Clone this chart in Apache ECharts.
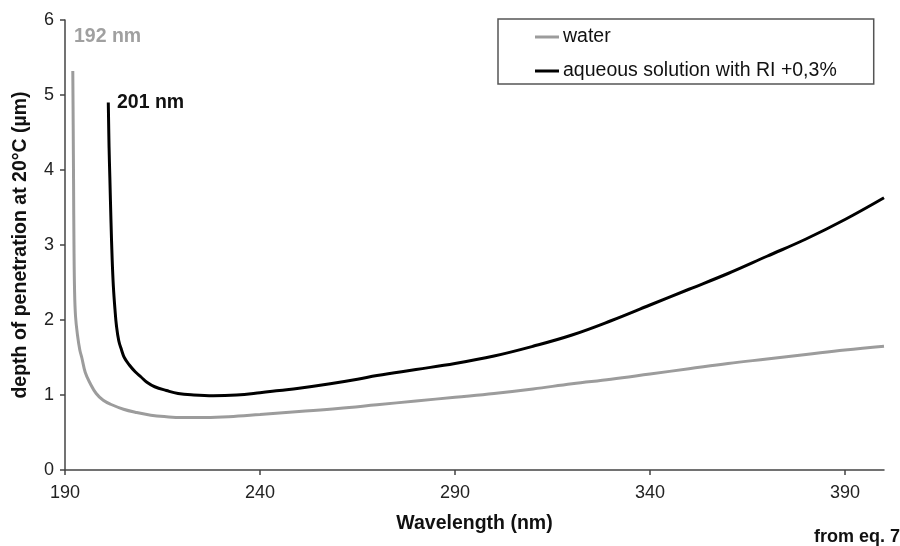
<!DOCTYPE html>
<html>
<head>
<meta charset="utf-8">
<script src="https://cdn.jsdelivr.net/npm/echarts@6/dist/echarts.min.js"></script>
<style>
  html, body { margin: 0; padding: 0; background: #fff; }
  #chart { width: 900px; height: 546px; }
</style>
</head>
<body>
<div id="chart"></div>
<script>
// wavelength (nm) / depth (µm)
const waterNm = [192.0, 192.1, 192.2, 192.3, 192.45, 192.7, 193.2, 193.8, 194.3, 195.2, 196.4, 198, 199.8, 202, 205, 208, 212, 216, 220, 226, 232, 240, 250, 260, 270, 280, 290, 300, 310, 320, 330, 340, 350, 360, 370, 380, 390, 400]
const waterDepth = [5.32, 4.6, 3.8, 3.0, 2.4, 2.05, 1.8, 1.6, 1.5, 1.3, 1.16, 1.02, 0.93, 0.87, 0.81, 0.77, 0.73, 0.71, 0.70, 0.70, 0.71, 0.74, 0.78, 0.82, 0.87, 0.92, 0.97, 1.02, 1.08, 1.15, 1.21, 1.28, 1.35, 1.42, 1.48, 1.54, 1.60, 1.65]

const solutionNm = [201.1, 201.3, 201.5, 201.8, 202.1, 202.4, 202.8, 203.2, 203.8, 204.5, 205.2, 206.5, 208, 209.5, 211, 213, 216, 219, 223, 228, 234, 240, 245, 250, 258, 265, 270, 280, 290, 300, 310, 320, 330, 340, 350, 360, 370, 380, 390, 400]
const solutionDepth = [4.90, 4.3, 3.9, 3.3, 2.8, 2.45, 2.15, 1.92, 1.72, 1.60, 1.50, 1.40, 1.31, 1.24, 1.17, 1.11, 1.06, 1.02, 1.00, 0.99, 1.00, 1.03, 1.06, 1.09, 1.15, 1.21, 1.26, 1.34, 1.42, 1.52, 1.65, 1.80, 1.99, 2.20, 2.41, 2.62, 2.85, 3.08, 3.34, 3.63]

const xTicks = [190, 240, 290, 340, 390]
const seriesNames = ['water', 'aqueous solution with RI +0,3%']

const font = 'Liberation Sans, Arial, sans-serif'
const chart = echarts.init(document.getElementById('chart'), null, { renderer: 'canvas' })

const pairs = (xs, ys) => xs.map((x, i) => [x, ys[i]])

chart.setOption({
  animation: false,
  backgroundColor: '#fff',
  grid: { left: 65, right: 16, top: 20, bottom: 76 },
  legend: {
    orient: 'vertical',
    left: 498,
    top: 19,
    padding: [8, 37, 3, 37],
    borderColor: '#555',
    borderWidth: 1.5,
    borderRadius: 0,
    itemWidth: 24,
    itemHeight: 3,
    itemGap: 14,
    icon: 'rect',
    data: seriesNames,
    textStyle: { fontFamily: font, fontSize: 19.5, color: '#111', lineHeight: 20, padding: [0, 0, 0, -1] }
  },
  xAxis: {
    type: 'value',
    min: 190,
    max: 400,
    name: 'Wavelength (nm)',
    nameLocation: 'middle',
    nameGap: 44,
    nameTextStyle: { fontFamily: font, fontSize: 19.5, fontWeight: 'bold', color: '#111' },
    splitLine: { show: false },
    axisLine: { lineStyle: { color: '#444', width: 1.5 } },
    axisTick: { customValues: xTicks, length: 5, lineStyle: { color: '#444', width: 1.5 } },
    axisLabel: { customValues: xTicks, margin: 14, fontFamily: font, fontSize: 18, color: '#222' }
  },
  yAxis: {
    type: 'value',
    min: 0,
    max: 6,
    interval: 1,
    name: 'depth of penetration at 20°C (µm)',
    nameLocation: 'middle',
    nameGap: 34,
    nameTextStyle: { fontFamily: font, fontSize: 19.5, fontWeight: 'bold', color: '#111' },
    splitLine: { show: false },
    axisLine: { show: true, lineStyle: { color: '#444', width: 1.5 } },
    axisTick: { show: true, length: 5, lineStyle: { color: '#444', width: 1.5 } },
    axisLabel: { margin: 11, fontFamily: font, fontSize: 18, color: '#222' }
  },
  series: [
    {
      name: seriesNames[0],
      type: 'line',
      data: pairs(waterNm, waterDepth),
      symbol: 'none',
      smooth: 0.4,
      color: '#9c9c9c',
      lineStyle: { color: '#9c9c9c', width: 3 }
    },
    {
      name: seriesNames[1],
      type: 'line',
      data: pairs(solutionNm, solutionDepth),
      symbol: 'none',
      smooth: 0.4,
      color: '#000',
      lineStyle: { color: '#000', width: 3 }
    }
  ],
  graphic: [
    { type: 'text', left: 74, top: 27, style: { text: '192 nm', fill: '#a0a0a0', font: 'bold 19.5px ' + font } },
    { type: 'text', left: 117, top: 93, style: { text: '201 nm', fill: '#111', font: 'bold 19.5px ' + font } },
    { type: 'text', left: 814, top: 528, style: { text: 'from eq. 7', fill: '#111', font: 'bold 18px ' + font } }
  ]
})
</script>
</body>
</html>
